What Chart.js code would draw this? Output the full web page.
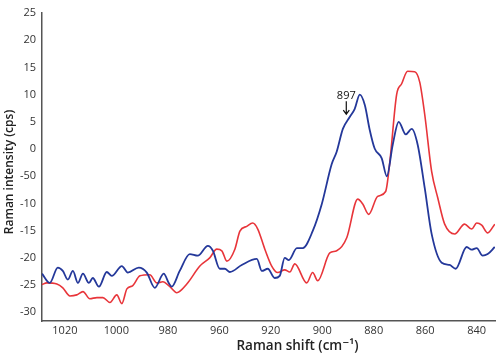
<!DOCTYPE html>
<html>
<head>
<meta charset="utf-8">
<script src="https://cdn.jsdelivr.net/npm/chart.js@4.4.1/dist/chart.umd.min.js"></script>
<style>
  html, body { margin: 0; padding: 0; background: #fff; }
  #wrap { width: 500px; height: 354px; }
</style>
</head>
<body>
<div id="wrap"><canvas id="raman"></canvas></div>
<script>
// Raman spectra, two samples

var xTickLabels = ['1020', '1000', '980', '960', '920', '900', '880', '860', '840'];
var yTickLabels = ['-30', '-25', '-20', '-15', '-10', '-50', '0', '5', '10', '15', '20', '25'];

var blueShift = [1030.0, 1026.6, 1023.1, 1020.9, 1018.7, 1016.5, 1014.3, 1012.1, 1009.5, 1007.8,
    1005.1, 1001.7, 999.5, 995.1, 992.5, 987.7, 984.2, 980.7, 976.8, 974.6,
    973.3, 969.8, 965.4, 961.9, 957.5, 955.3, 952.3, 950.1, 947.9, 942.7,
    936.1, 933.9, 931.3, 928.3, 926.1, 923.9, 922.1, 918.6, 916.0, 911.7,
    907.7, 903.4, 901.2, 898.5, 895.5, 893.3, 891.1, 888.9, 886.8, 884.6,
    881.5, 879.3, 876.7, 874.1, 871.0, 868.4, 865.8, 862.7, 859.7, 855.3,
    851.8, 849.2, 844.4, 842.2, 840.0, 837.4, 835.2, 832.1];
var blueIntensity = [-22.9, -24.6, -21.8, -22.4, -24.0, -22.4, -24.6, -22.9, -24.6, -23.7,
    -25.3, -22.6, -23.3, -21.5, -22.7, -21.8, -22.7, -25.5, -22.9, -24.6,
    -25.3, -22.4, -19.3, -19.6, -17.8, -18.7, -22.0, -22.0, -22.6, -21.3,
    -20.2, -22.4, -22.0, -23.7, -23.3, -20.0, -20.4, -18.2, -18.2, -15.1,
    -10.1, -2.8, -0.5, 3.7, 5.9, 7.4, 10.0, 8.1, 3.6, 0.1,
    -1.7, -5.0, 0.8, 5.0, 2.7, 3.7, 0.8, -7.2, -15.6, -20.9,
    -21.3, -22.0, -18.0, -18.5, -18.2, -19.6, -19.3, -18.0];

var redShift = [1030.0, 1027.9, 1023.5, 1020.9, 1017.8, 1014.8, 1012.1, 1009.1, 1006.0, 1003.4,
    1000.3, 997.3, 995.1, 992.9, 990.3, 987.2, 982.9, 979.8, 977.2, 974.1,
    971.1, 966.7, 961.0, 956.7, 953.6, 951.4, 949.2, 945.7, 943.5, 940.5,
    937.9, 935.7, 932.6, 929.6, 927.0, 923.9, 921.7, 919.5, 914.3, 911.7,
    909.5, 904.2, 901.2, 896.8, 892.0, 889.8, 887.2, 883.3, 879.8, 878.0,
    875.0, 872.8, 870.2, 867.1, 864.9, 862.7, 859.7, 857.0, 854.0, 849.6,
    845.3, 842.2, 840.0, 837.8, 835.2, 832.1];
var redIntensity = [-24.9, -24.6, -24.8, -25.5, -27.0, -26.8, -26.2, -27.5, -27.3, -27.3,
    -28.2, -26.8, -28.4, -25.7, -25.1, -23.3, -23.1, -24.6, -24.4, -25.3,
    -26.4, -24.8, -21.5, -20.0, -18.4, -18.7, -20.6, -18.4, -15.1, -14.2,
    -13.6, -14.7, -18.4, -21.5, -22.7, -22.2, -22.6, -21.1, -24.6, -22.7,
    -24.2, -19.1, -18.7, -16.3, -9.2, -10.1, -12.0, -8.7, -7.8, -2.5,
    10.0, 12.0, 14.3, 14.2, 12.3, 6.3, -4.1, -9.0, -13.8, -15.6,
    -13.8, -14.7, -13.6, -14.0, -15.4, -13.8];

var peakShift = 897;

function toPoints(xs, ys) {
    var pts = [];
    for (var i = 0; i < xs.length; i++) pts.push({ x: xs[i], y: ys[i] });
    return pts;
}

var fontFamily = '"Open Sans", "DejaVu Sans", sans-serif';
var axisColor = '#555';
var textColor = '#333';

// axis titles + the 897 marker
var extras = {
    id: 'extras',
    afterDraw: function (chart) {
        var ctx = chart.ctx, xs = chart.scales.x, ys = chart.scales.y, area = chart.chartArea;
        ctx.save();
        ctx.fillStyle = '#222';
        ctx.textAlign = 'center';
        ctx.textBaseline = 'middle';
        ctx.font = '600 13.5px ' + fontFamily;
        ctx.fillText('Raman shift (cm\u207B\u00B9)', (area.left + area.right) / 2 + 29, 346);

        ctx.save();
        ctx.translate(10, (area.top + area.bottom) / 2 + 5);
        ctx.rotate(-Math.PI / 2);
        ctx.font = '600 12px ' + fontFamily;
        ctx.fillText('Raman intensity (cps)', 0, 0);
        ctx.restore();

        var px = xs.getPixelForValue(peakShift);
        ctx.font = '11px ' + fontFamily;
        ctx.fillStyle = '#111';
        ctx.fillText(String(peakShift), px, ys.getPixelForValue(9.8));
        var y0 = ys.getPixelForValue(8.8), y1 = ys.getPixelForValue(6.4);
        ctx.strokeStyle = '#111';
        ctx.lineWidth = 1.2;
        ctx.beginPath();
        ctx.moveTo(px, y0);
        ctx.lineTo(px, y1);
        ctx.moveTo(px - 3, y1 - 4);
        ctx.lineTo(px, y1);
        ctx.lineTo(px + 3, y1 - 4);
        ctx.stroke();
        ctx.restore();
    }
};

var ramanChart = new Chart(document.getElementById('raman').getContext('2d'), {
    type: 'line',
    data: {
        datasets: [{
            label: 'Sample A',
            data: toPoints(blueShift, blueIntensity),
            borderColor: '#24389a',
            borderWidth: 1.8,
            pointRadius: 0,
            cubicInterpolationMode: 'monotone',
            fill: false
        },
        {
            label: 'Sample B',
            data: toPoints(redShift, redIntensity),
            borderColor: '#e8353a',
            borderWidth: 1.6,
            pointRadius: 0,
            cubicInterpolationMode: 'monotone',
            fill: false
        }]
    },
    options: {
        responsive: true,
        maintainAspectRatio: false,
        animation: false,
        layout: { padding: { top: 13, right: 5, left: 0, bottom: 0 } },
        plugins: {
            legend: { display: false },
            tooltip: { enabled: false }
        },
        scales: {
            x: {
                type: 'linear',
                reverse: true,
                min: 832,
                max: 1030,
                afterBuildTicks: function (scale) {
                    var n = xTickLabels.length;
                    var first = +xTickLabels[0], last = +xTickLabels[n - 1];
                    scale.ticks = xTickLabels.map(function (l, i) {
                        return { value: first + (last - first) * i / (n - 1) };
                    });
                },
                afterFit: function (scale) { scale.height = 33; },
                ticks: {
                    autoSkip: false,
                    maxRotation: 0,
                    padding: 3,
                    color: textColor,
                    font: { family: fontFamily, size: 11 },
                    callback: function (v, i) { return xTickLabels[i]; }
                },
                grid: { display: false, drawTicks: false },
                border: { color: axisColor, width: 1.5 }
            },
            y: {
                type: 'linear',
                min: -31.6,
                max: 25,
                afterBuildTicks: function (scale) {
                    scale.ticks = yTickLabels.map(function (l, i) {
                        return { value: -30 + 5 * i };
                    });
                },
                afterFit: function (scale) { scale.width = 42; },
                ticks: {
                    padding: 6,
                    color: textColor,
                    font: { family: fontFamily, size: 11 },
                    callback: function (v, i) { return yTickLabels[i]; }
                },
                grid: { display: false, drawTicks: false },
                border: { color: axisColor, width: 1.5 }
            }
        }
    },
    plugins: [extras]
});
</script>
</body>
</html>
